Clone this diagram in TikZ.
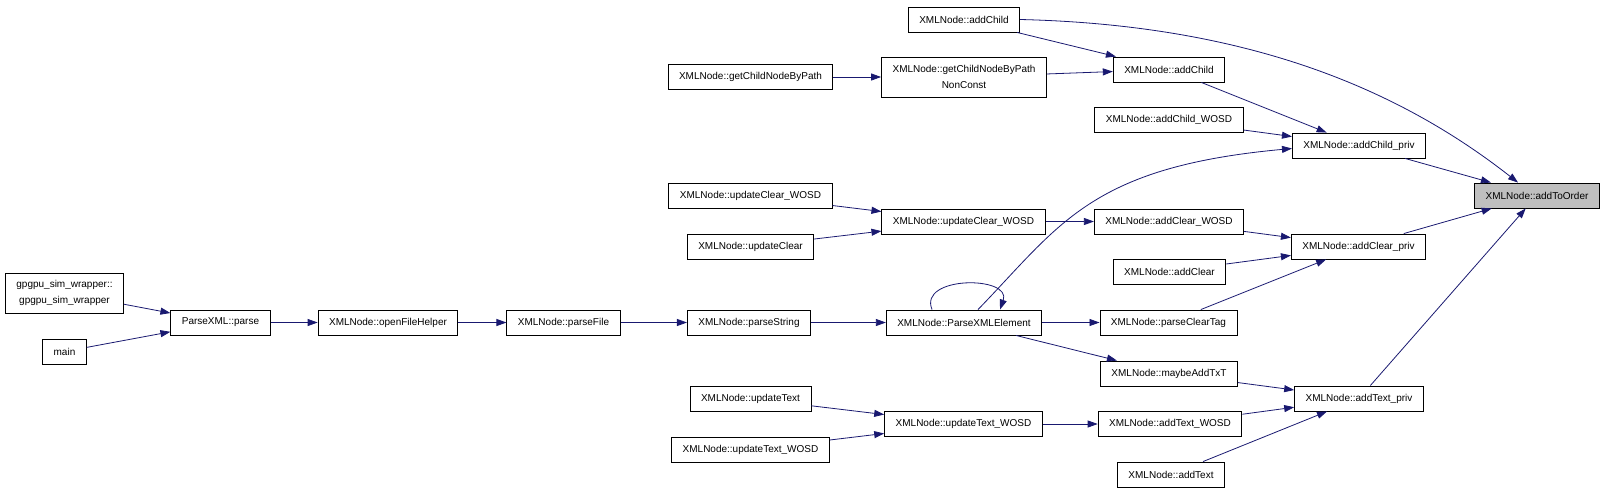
\documentclass[tikz,border=0pt]{standalone}
\usepackage{fontspec}
\setmainfont{Liberation Sans}
\usepackage{xcolor}
\usepackage{tikz}
\usetikzlibrary{arrows.meta,positioning,calc}

\definecolor{edgeblue}{RGB}{25,25,112}
\definecolor{focusgray}{RGB}{191,191,191}

\begin{document}
\begin{tikzpicture}[
        x=1pt, y=-1pt,
        % Styles
        fnode/.style={
            rectangle,
            draw=black,
            fill=white,
            line width=0.9pt,
            minimum height=25pt,
            inner xsep=11pt,
            inner ysep=2pt,
            align=center,
            font=\fontsize{10}{16.5}\selectfont
        },
        twoline/.style={
            fnode,
            minimum height=40pt
        },
        focus/.style={
            fnode,
            fill=focusgray
        },
        arrow/.style={
            -{Triangle[length=10pt,width=7pt]},
            draw=edgeblue,
            line width=0.8pt
        }
    ]

    \useasboundingbox (0,0) rectangle (1605,493);

    % Entry points
    \node[twoline] (gpgpu_wrapper) at (64.5,293) {gpgpu\_sim\_wrapper::\\gpgpu\_sim\_wrapper};
    \node[fnode] (main) at (64.5,351.5) {main};
    \node[fnode] (parse) at (220.5,322.5) {ParseXML::parse};
    \node[fnode] (open_helper) at (388,322.5) {XMLNode::openFileHelper};
    \node[fnode] (parse_file) at (563.5,322.5) {XMLNode::parseFile};
    \node[fnode] (parse_string) at (749,322.5) {XMLNode::parseString};
    \node[fnode] (parse_element) at (964,322.5) {XMLNode::ParseXMLElement};

    % Child branch
    \node[fnode] (add_child_a) at (964,19.5) {XMLNode::addChild};
    \node[fnode] (get_child) at (750.5,77) {XMLNode::getChildNodeByPath};
    \node[twoline] (get_child_nc) at (964,77) {XMLNode::getChildNodeByPath\\NonConst};
    \node[fnode] (add_child_b) at (1169,69.5) {XMLNode::addChild};
    \node[fnode] (add_child_wosd) at (1169,120) {XMLNode::addChild\_WOSD};
    \node[fnode] (add_child_priv) at (1359,145.5) {XMLNode::addChild\_priv};

    % Clear branch
    \node[fnode] (upd_clear_wosd_a) at (750.5,195.5) {XMLNode::updateClear\_WOSD};
    \node[fnode] (upd_clear) at (750.5,246.5) {XMLNode::updateClear};
    \node[fnode] (upd_clear_wosd_b) at (963.5,221.5) {XMLNode::updateClear\_WOSD};
    \node[fnode] (add_clear_wosd) at (1169,221.5) {XMLNode::addClear\_WOSD};
    \node[fnode] (add_clear) at (1169.5,271.5) {XMLNode::addClear};
    \node[fnode] (parse_clear_tag) at (1168.5,322.5) {XMLNode::parseClearTag};
    \node[fnode] (add_clear_priv) at (1358.5,246.5) {XMLNode::addClear\_priv};

    % Text branch
    \node[fnode] (maybe_add) at (1169,373.5) {XMLNode::maybeAddTxT};
    \node[fnode] (upd_text) at (750.5,398.5) {XMLNode::updateText};
    \node[fnode] (upd_text_wosd_b) at (963.5,424) {XMLNode::updateText\_WOSD};
    \node[fnode] (upd_text_wosd_a) at (750.5,449.5) {XMLNode::updateText\_WOSD};
    \node[fnode] (add_text_wosd) at (1170,424) {XMLNode::addText\_WOSD};
    \node[fnode] (add_text) at (1171,474.5) {XMLNode::addText};
    \node[fnode] (add_text_priv) at (1359,398.5) {XMLNode::addText\_priv};

    % Target function
    \node[focus] (add_to_order) at (1537,195.5) {XMLNode::addToOrder};

    % Parse chain
    \draw[arrow] (gpgpu_wrapper) -- (parse);
    \draw[arrow] (main) -- (parse);
    \draw[arrow] (parse) -- (open_helper);
    \draw[arrow] (open_helper) -- (parse_file);
    \draw[arrow] (parse_file) -- (parse_string);
    \draw[arrow] (parse_string) -- (parse_element);

    % Recursive call
    \draw[arrow] ([xshift=-32pt]parse_element.north)
        .. controls ([xshift=-46pt,yshift=34pt]parse_element.north)
        and ([xshift=48pt,yshift=34pt]parse_element.north)
        .. ([xshift=36pt]parse_element.north);

    % Child edges
    \draw[arrow] (add_child_a.east) .. controls (1250,25) and (1400,90)
        .. ([xshift=-19pt]add_to_order.north);
    \draw[arrow] (add_child_a) -- (add_child_b);
    \draw[arrow] (get_child) -- (get_child_nc);
    \draw[arrow] (get_child_nc) -- (add_child_b);
    \draw[arrow] (add_child_b) -- (add_child_priv);
    \draw[arrow] (add_child_wosd) -- (add_child_priv);
    \draw[arrow] ([xshift=14pt]parse_element.north) .. controls (1060,225) and (1090,167)
        .. ([yshift=-3pt]add_child_priv.west);

    % Clear edges
    \draw[arrow] (upd_clear_wosd_a) -- (upd_clear_wosd_b);
    \draw[arrow] (upd_clear) -- (upd_clear_wosd_b);
    \draw[arrow] (upd_clear_wosd_b) -- (add_clear_wosd);
    \draw[arrow] (add_clear_wosd) -- (add_clear_priv);
    \draw[arrow] (add_clear) -- (add_clear_priv);
    \draw[arrow] (parse_element) -- (parse_clear_tag);
    \draw[arrow] (parse_clear_tag) -- (add_clear_priv);

    % Text edges
    \draw[arrow] (parse_element) -- (maybe_add);
    \draw[arrow] (maybe_add) -- (add_text_priv);
    \draw[arrow] (upd_text) -- (upd_text_wosd_b);
    \draw[arrow] (upd_text_wosd_a) -- (upd_text_wosd_b);
    \draw[arrow] (upd_text_wosd_b) -- (add_text_wosd);
    \draw[arrow] (add_text_wosd) -- (add_text_priv);
    \draw[arrow] (add_text) -- (add_text_priv);

    % Into the target
    \draw[arrow] (add_child_priv) -- (add_to_order);
    \draw[arrow] (add_clear_priv) -- (add_to_order);
    \draw[arrow] (add_text_priv) -- (add_to_order);

\end{tikzpicture}
\end{document}
